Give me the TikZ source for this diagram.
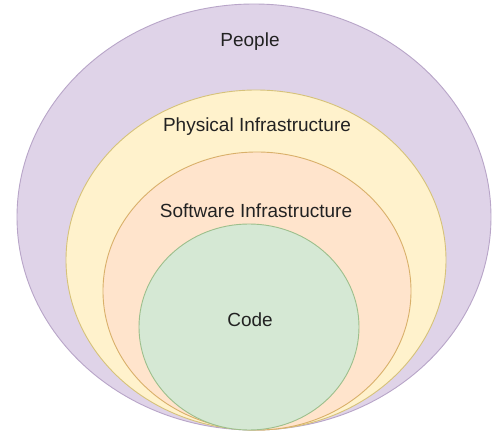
\documentclass[tikz,border=0pt]{standalone}
\usepackage{fontspec}
\setmainfont{Liberation Sans}
\definecolor{pplfill}{HTML}{DFD3E8}
\definecolor{pplline}{HTML}{B8A5C8}
\definecolor{phyfill}{HTML}{FFF2CC}
\definecolor{phyline}{HTML}{D6C27A}
\definecolor{swfill}{HTML}{FFE4CC}
\definecolor{swline}{HTML}{D9B06A}
\definecolor{codefill}{HTML}{D5E8D4}
\definecolor{codeline}{HTML}{9DBF8C}
\definecolor{txt}{HTML}{222222}
\begin{document}
\begin{tikzpicture}[x=1pt,y=-1pt,
  layer/.style={line width=0.9pt},
  lbl/.style={text=txt,font=\fontsize{19}{21}\selectfont,inner sep=0pt}]
\useasboundingbox (0,0) rectangle (496,431);
\fill[white] (0,0) rectangle (496,431);
% nested rings, all touching at the bottom
\draw[layer,fill=pplfill,draw=pplline] (254,217) ellipse [x radius=237,y radius=213];
\draw[layer,fill=phyfill,draw=phyline] (256,260) ellipse [x radius=190,y radius=170];
\draw[layer,fill=swfill,draw=swline] (257,291) ellipse [x radius=154,y radius=139];
\draw[layer,fill=codefill,draw=codeline] (249,327) ellipse [x radius=110,y radius=103];
% labels
\node[lbl] (people) at (250,42) {People};
\node[lbl] (phys) at (257,127) {Physical Infrastructure};
\node[lbl] (soft) at (256,211) {Software Infrastructure};
\node[lbl] (code) at (250,320) {Code};
\end{tikzpicture}
\end{document}
